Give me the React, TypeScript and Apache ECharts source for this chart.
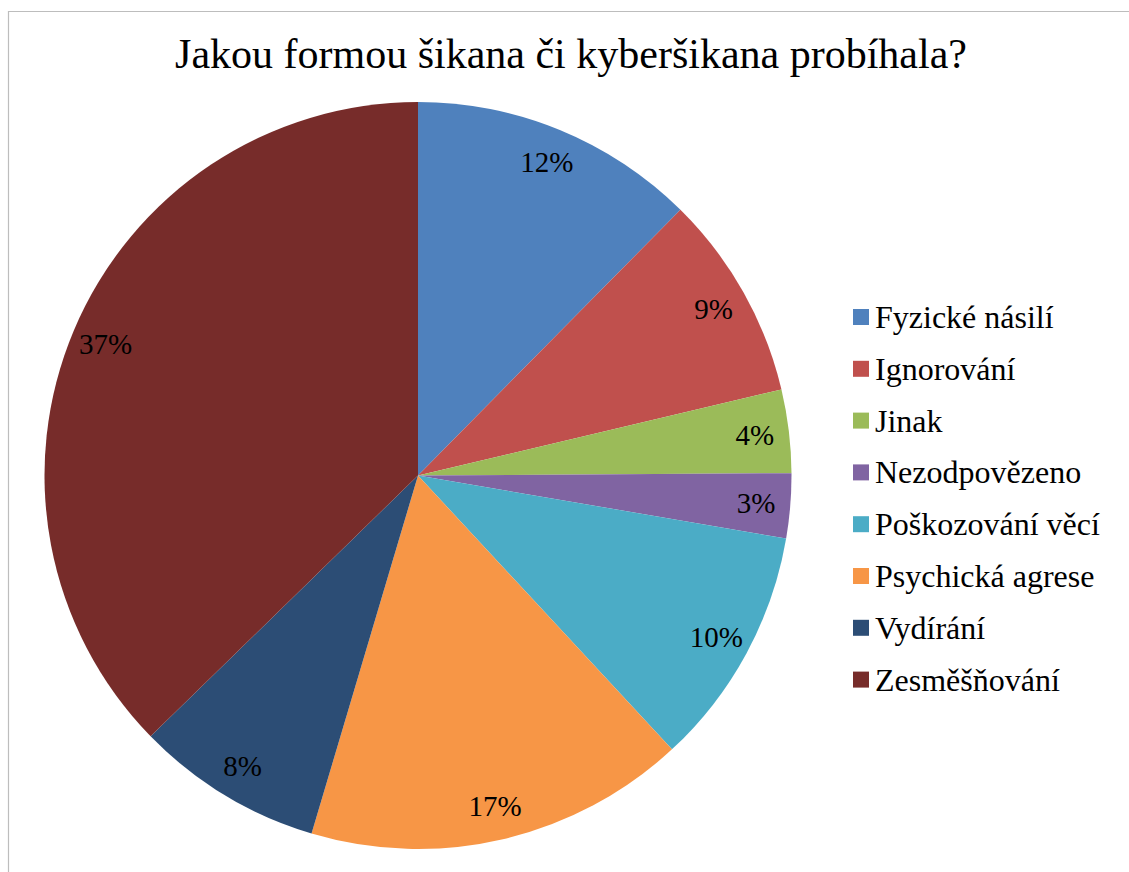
import React, { useEffect, useRef } from "react";
import * as echarts from "echarts";

const categories = [
  "Fyzické násilí",
  "Ignorování",
  "Jinak",
  "Nezodpovězeno",
  "Poškozování věcí",
  "Psychická agrese",
  "Vydírání",
  "Zesměšňování",
];
const shares = [12.4, 8.9, 3.6, 2.8, 10.4, 16.5, 8.1, 37.3];
const colors = ["#4F81BD", "#C0504D", "#9BBB59", "#8064A2", "#4BACC6", "#F79646", "#2C4D75", "#772C2A"];
const titleText = "Jakou formou šikana či kyberšikana probíhala?";

const FONT = "Liberation Serif";

export default function App() {
  const ref = useRef<HTMLDivElement>(null);
  useEffect(() => {
    if (!ref.current) return;
    const chart = echarts.init(ref.current, null, { renderer: "svg" });
    const data = categories.map((name, i) => ({
      name,
      value: shares[i],
      itemStyle: { color: colors[i] },
    }));
    const R = 373.5;
    chart.setOption({
      animation: false,
      backgroundColor: "#ffffff",
      graphic: [
        {
          type: "rect",
          shape: { x: 8.5, y: 11.5, width: 1300, height: 1000 },
          style: { fill: "none", stroke: "#bdbdbd", lineWidth: 1.2 },
          silent: true,
        },
        {
          type: "text",
          x: 571,
          y: 54,
          style: {
            text: titleText,
            fontFamily: FONT,
            fontSize: 42,
            fill: "#000",
            textAlign: "center",
            textVerticalAlign: "middle",
          },
        },
      ],
      legend: {
        orient: "vertical",
        left: 853,
        top: 299,
        padding: 0,
        icon: "rect",
        itemWidth: 16,
        itemHeight: 16,
        itemGap: 15.8,
        data: categories,
        selectedMode: false,
        textStyle: {
          fontFamily: FONT,
          fontSize: 32,
          color: "#000",
          lineHeight: 36,
          padding: [0, 0, 0, 1],
        },
      },
      series: [
        {
          type: "pie",
          center: [418, 475.5],
          radius: [0, R],
          startAngle: 90,
          clockwise: true,
          label: { show: false },
          labelLine: { show: false },
          emphasis: { disabled: true },
          data,
        },
        {
          type: "pie",
          center: [418, 475.5],
          radius: [R * 0.8, R],
          startAngle: 90,
          clockwise: true,
          silent: true,
          avoidLabelOverlap: false,
          itemStyle: { color: "rgba(0,0,0,0)" },
          emphasis: { disabled: true },
          label: {
            show: true,
            position: "inside",
            fontFamily: FONT,
            fontSize: 29,
            color: "#000",
            formatter: (p: any) => Math.round(p.percent) + "%",
          },
          labelLine: { show: false },
          data: categories.map((name, i) => ({
            name,
            value: shares[i],
            itemStyle: { color: "rgba(0,0,0,0)" },
          })),
        },
      ],
    });
    return () => chart.dispose();
  }, []);
  return (
    <div
      ref={ref}
      style={{ position: "fixed", left: 0, top: 0, width: 1129, height: 872 }}
    />
  );
}
